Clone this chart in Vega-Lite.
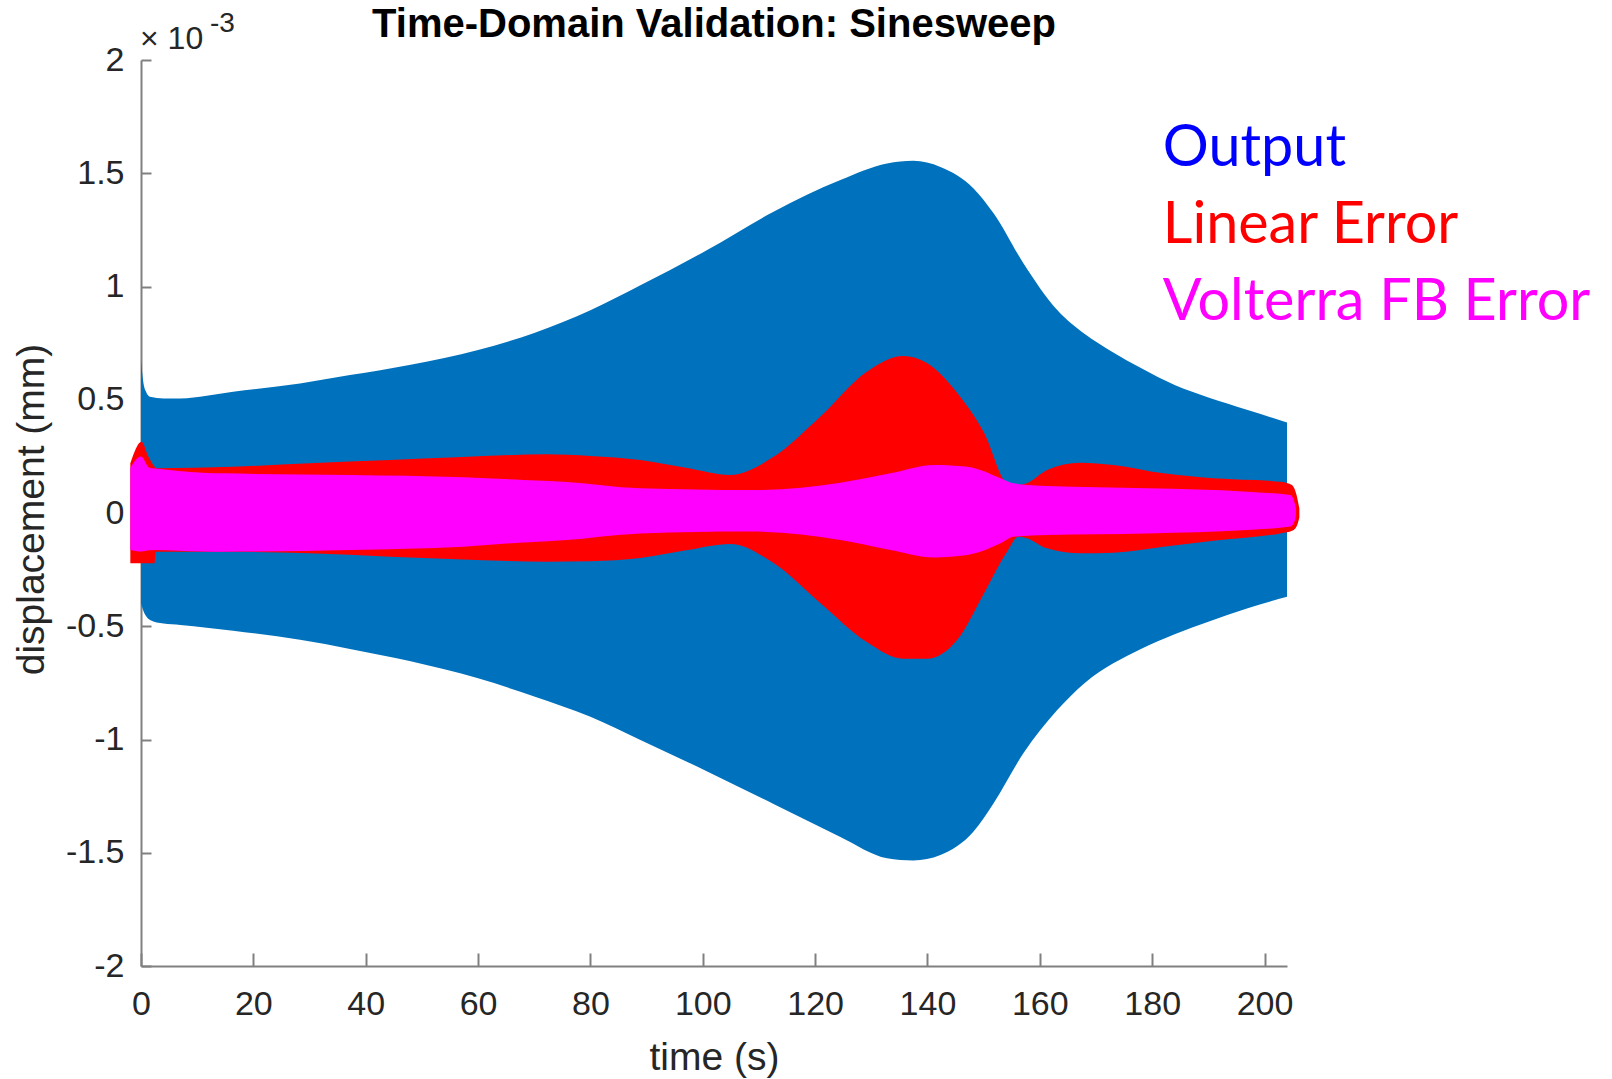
{
  "$schema": "https://vega.github.io/schema/vega-lite/v6.json",
  "width": 1146,
  "height": 906,
  "autosize": {"type": "none"},
  "padding": {"left": 141, "top": 60, "right": 325, "bottom": 113},
  "background": "white",
  "config": {"view": {"stroke": null}, "font": "Liberation Sans"},
  "title": {
    "text": "Time-Domain Validation: Sinesweep",
    "font": "Liberation Sans",
    "fontSize": 40,
    "fontWeight": "bold",
    "color": "#000000",
    "anchor": "middle",
    "frame": "group",
    "baseline": "alphabetic",
    "offset": -24,
    "dy": 43
  },
  "datasets": {
    "env": [
      {"series": "Output", "t": 0, "y_low": -0.40, "y": 0.675},
      {"series": "Output", "t": 0.4, "y_low": -0.43, "y": 0.58},
      {"series": "Output", "t": 0.9, "y_low": -0.455, "y": 0.535},
      {"series": "Output", "t": 1.6, "y_low": -0.472, "y": 0.513},
      {"series": "Output", "t": 4, "y_low": -0.488, "y": 0.506},
      {"series": "Output", "t": 7, "y_low": -0.494, "y": 0.506},
      {"series": "Output", "t": 16.4, "y_low": -0.52, "y": 0.535},
      {"series": "Output", "t": 28.3, "y_low": -0.56, "y": 0.572},
      {"series": "Output", "t": 37.2, "y_low": -0.6, "y": 0.609},
      {"series": "Output", "t": 48, "y_low": -0.655, "y": 0.655},
      {"series": "Output", "t": 60, "y_low": -0.73, "y": 0.72},
      {"series": "Output", "t": 70, "y_low": -0.81, "y": 0.795},
      {"series": "Output", "t": 80, "y_low": -0.9, "y": 0.895},
      {"series": "Output", "t": 88.9, "y_low": -1.002, "y": 1.005},
      {"series": "Output", "t": 100.7, "y_low": -1.14, "y": 1.16},
      {"series": "Output", "t": 112.6, "y_low": -1.285, "y": 1.33},
      {"series": "Output", "t": 124.5, "y_low": -1.43, "y": 1.47},
      {"series": "Output", "t": 132.8, "y_low": -1.524, "y": 1.543},
      {"series": "Output", "t": 137.5, "y_low": -1.534, "y": 1.555},
      {"series": "Output", "t": 142.3, "y_low": -1.51, "y": 1.528},
      {"series": "Output", "t": 148.2, "y_low": -1.406, "y": 1.433},
      {"series": "Output", "t": 151.8, "y_low": -1.28, "y": 1.322},
      {"series": "Output", "t": 157.1, "y_low": -1.06, "y": 1.102},
      {"series": "Output", "t": 163.1, "y_low": -0.87, "y": 0.896},
      {"series": "Output", "t": 168, "y_low": -0.75, "y": 0.79},
      {"series": "Output", "t": 173, "y_low": -0.665, "y": 0.71},
      {"series": "Output", "t": 178, "y_low": -0.6, "y": 0.64},
      {"series": "Output", "t": 184, "y_low": -0.535, "y": 0.565},
      {"series": "Output", "t": 190, "y_low": -0.48, "y": 0.51},
      {"series": "Output", "t": 197, "y_low": -0.42, "y": 0.455},
      {"series": "Output", "t": 204, "y_low": -0.37, "y": 0.4},

      {"series": "Linear Error", "t": -1.9, "y_low": -0.222, "y": 0.22},
      {"series": "Linear Error", "t": 0.1, "y_low": -0.222, "y": 0.315},
      {"series": "Linear Error", "t": 1.3, "y_low": -0.222, "y": 0.25},
      {"series": "Linear Error", "t": 2.4, "y_low": -0.222, "y": 0.205},
      {"series": "Linear Error", "t": 2.6, "y_low": -0.171, "y": 0.198},
      {"series": "Linear Error", "t": 16.4, "y_low": -0.171, "y": 0.204},
      {"series": "Linear Error", "t": 30, "y_low": -0.178, "y": 0.22},
      {"series": "Linear Error", "t": 44.3, "y_low": -0.193, "y": 0.234},
      {"series": "Linear Error", "t": 56.2, "y_low": -0.204, "y": 0.246},
      {"series": "Linear Error", "t": 72.2, "y_low": -0.215, "y": 0.259},
      {"series": "Linear Error", "t": 80, "y_low": -0.213, "y": 0.252},
      {"series": "Linear Error", "t": 88.9, "y_low": -0.199, "y": 0.234},
      {"series": "Linear Error", "t": 97, "y_low": -0.165, "y": 0.2},
      {"series": "Linear Error", "t": 104.9, "y_low": -0.137, "y": 0.168},
      {"series": "Linear Error", "t": 112.6, "y_low": -0.221, "y": 0.248},
      {"series": "Linear Error", "t": 120.9, "y_low": -0.397, "y": 0.425},
      {"series": "Linear Error", "t": 129.2, "y_low": -0.57, "y": 0.624},
      {"series": "Linear Error", "t": 135.7, "y_low": -0.644, "y": 0.693},
      {"series": "Linear Error", "t": 139.9, "y_low": -0.644, "y": 0.662},
      {"series": "Linear Error", "t": 145.3, "y_low": -0.56, "y": 0.53},
      {"series": "Linear Error", "t": 150.1, "y_low": -0.353, "y": 0.353},
      {"series": "Linear Error", "t": 154.2, "y_low": -0.17, "y": 0.132},
      {"series": "Linear Error", "t": 156.2, "y_low": -0.105, "y": 0.124},
      {"series": "Linear Error", "t": 157.5, "y_low": -0.11, "y": 0.13},
      {"series": "Linear Error", "t": 161.3, "y_low": -0.156, "y": 0.19},
      {"series": "Linear Error", "t": 167.2, "y_low": -0.178, "y": 0.222},
      {"series": "Linear Error", "t": 173.1, "y_low": -0.175, "y": 0.212},
      {"series": "Linear Error", "t": 182, "y_low": -0.149, "y": 0.175},
      {"series": "Linear Error", "t": 190.9, "y_low": -0.122, "y": 0.153},
      {"series": "Linear Error", "t": 202.8, "y_low": -0.09, "y": 0.138},
      {"series": "Linear Error", "t": 204.8, "y_low": -0.08, "y": 0.125},
      {"series": "Linear Error", "t": 205.7, "y_low": -0.06, "y": 0.08},
      {"series": "Linear Error", "t": 206.2, "y_low": -0.02, "y": 0.02},

      {"series": "Volterra FB Error", "t": -1.9, "y_low": -0.163, "y": 0.2},
      {"series": "Volterra FB Error", "t": 0, "y_low": -0.17, "y": 0.25},
      {"series": "Volterra FB Error", "t": 1.5, "y_low": -0.165, "y": 0.2},
      {"series": "Volterra FB Error", "t": 2.5, "y_low": -0.163, "y": 0.197},
      {"series": "Volterra FB Error", "t": 11, "y_low": -0.17, "y": 0.178},
      {"series": "Volterra FB Error", "t": 14.6, "y_low": -0.171, "y": 0.175},
      {"series": "Volterra FB Error", "t": 37.2, "y_low": -0.163, "y": 0.168},
      {"series": "Volterra FB Error", "t": 57.4, "y_low": -0.149, "y": 0.158},
      {"series": "Volterra FB Error", "t": 68, "y_low": -0.13, "y": 0.146},
      {"series": "Volterra FB Error", "t": 75.2, "y_low": -0.12, "y": 0.138},
      {"series": "Volterra FB Error", "t": 88.9, "y_low": -0.09, "y": 0.109},
      {"series": "Volterra FB Error", "t": 108.5, "y_low": -0.082, "y": 0.101},
      {"series": "Volterra FB Error", "t": 124.5, "y_low": -0.119, "y": 0.134},
      {"series": "Volterra FB Error", "t": 133.4, "y_low": -0.163, "y": 0.175},
      {"series": "Volterra FB Error", "t": 141.1, "y_low": -0.196, "y": 0.212},
      {"series": "Volterra FB Error", "t": 147.1, "y_low": -0.185, "y": 0.204},
      {"series": "Volterra FB Error", "t": 149.4, "y_low": -0.171, "y": 0.19},
      {"series": "Volterra FB Error", "t": 153, "y_low": -0.134, "y": 0.153},
      {"series": "Volterra FB Error", "t": 155.3, "y_low": -0.105, "y": 0.131},
      {"series": "Volterra FB Error", "t": 161.3, "y_low": -0.097, "y": 0.119},
      {"series": "Volterra FB Error", "t": 179.1, "y_low": -0.09, "y": 0.109},
      {"series": "Volterra FB Error", "t": 196.9, "y_low": -0.075, "y": 0.094},
      {"series": "Volterra FB Error", "t": 204.6, "y_low": -0.06, "y": 0.079},
      {"series": "Volterra FB Error", "t": 205.3, "y_low": -0.04, "y": 0.05},
      {"series": "Volterra FB Error", "t": 205.6, "y_low": -0.01, "y": 0.02}
    ],
    "labels": [
      {"label": "Output", "t": 181.9, "y": 1.533},
      {"label": "Linear Error", "t": 181.9, "y": 1.191},
      {"label": "Volterra FB Error", "t": 181.9, "y": 0.852}
    ]
  },
  "encoding": {
    "x": {
      "field": "t",
      "type": "quantitative",
      "scale": {"domain": [0, 204], "nice": false, "zero": false},
      "axis": {
        "title": "time (s)",
        "values": [0, 20, 40, 60, 80, 100, 120, 140, 160, 180, 200],
        "grid": false,
        "domainColor": "#808080",
        "domainWidth": 2,
        "tickColor": "#808080",
        "tickWidth": 2,
        "tickSize": -13,
        "labelPadding": 34,
        "labelFont": "Liberation Sans",
        "labelFontSize": 34,
        "labelColor": "#262626",
        "labelFlush": false,
        "labelOverlap": false,
        "titleFont": "Liberation Sans",
        "titleFontSize": 39,
        "titleFontWeight": "normal",
        "titleColor": "#262626",
        "titleBaseline": "alphabetic",
        "titleAlign": "center",
        "titleX": 573,
        "titleY": 103
      }
    },
    "y": {
      "field": "y",
      "type": "quantitative",
      "scale": {"domain": [-2, 2], "nice": false, "zero": false},
      "axis": {
        "title": "displacement (mm)",
        "values": [-2, -1.5, -1, -0.5, 0, 0.5, 1, 1.5, 2],
        "format": "~g",
        "labelExpr": "replace(datum.label, '\u2212', '-')",
        "grid": false,
        "domainColor": "#808080",
        "domainWidth": 2,
        "tickColor": "#808080",
        "tickWidth": 2,
        "tickSize": -10,
        "labelPadding": 27,
        "labelFont": "Liberation Sans",
        "labelFontSize": 34,
        "labelColor": "#262626",
        "labelFlush": false,
        "labelOverlap": false,
        "titleFont": "Liberation Sans",
        "titleFontSize": 39,
        "titleFontWeight": "normal",
        "titleColor": "#262626",
        "titleAngle": -90,
        "titleBaseline": "alphabetic",
        "titleAlign": "center",
        "titleX": -98,
        "titleY": 449
      }
    }
  },
  "layer": [
    {
      "data": {"name": "env"},
      "transform": [{"filter": "datum.series === 'Output'"}],
      "mark": {"type": "area", "color": "#0072BD", "interpolate": "monotone"},
      "encoding": {"y2": {"field": "y_low"}}
    },
    {
      "data": {"name": "env"},
      "transform": [{"filter": "datum.series === 'Linear Error'"}],
      "mark": {"type": "area", "color": "#FF0000", "interpolate": "monotone"},
      "encoding": {"y2": {"field": "y_low"}}
    },
    {
      "data": {"name": "env"},
      "transform": [{"filter": "datum.series === 'Volterra FB Error'"}],
      "mark": {"type": "area", "color": "#FF00FF", "interpolate": "monotone"},
      "encoding": {"y2": {"field": "y_low"}}
    },
    {
      "data": {"name": "labels"},
      "mark": {"type": "text", "font": "Lato", "fontSize": 57.5, "align": "left", "baseline": "alphabetic"},
      "encoding": {
        "text": {"field": "label"},
        "color": {
          "field": "label",
          "type": "nominal",
          "scale": {"domain": ["Output", "Linear Error", "Volterra FB Error"], "range": ["#0000FF", "#FF0000", "#FF00FF"]},
          "legend": null
        }
      }
    },
    {
      "data": {"values": [{"t": 0, "y": 2, "label": "× 10"}]},
      "mark": {"type": "text", "font": "Liberation Sans", "fontSize": 32, "align": "left", "baseline": "alphabetic", "dx": -1, "dy": -11, "color": "#262626"},
      "encoding": {"text": {"field": "label"}}
    },
    {
      "data": {"values": [{"t": 0, "y": 2, "label": "-3"}]},
      "mark": {"type": "text", "font": "Liberation Sans", "fontSize": 28, "align": "left", "baseline": "alphabetic", "dx": 69, "dy": -28, "color": "#262626"},
      "encoding": {"text": {"field": "label"}}
    }
  ]
}
